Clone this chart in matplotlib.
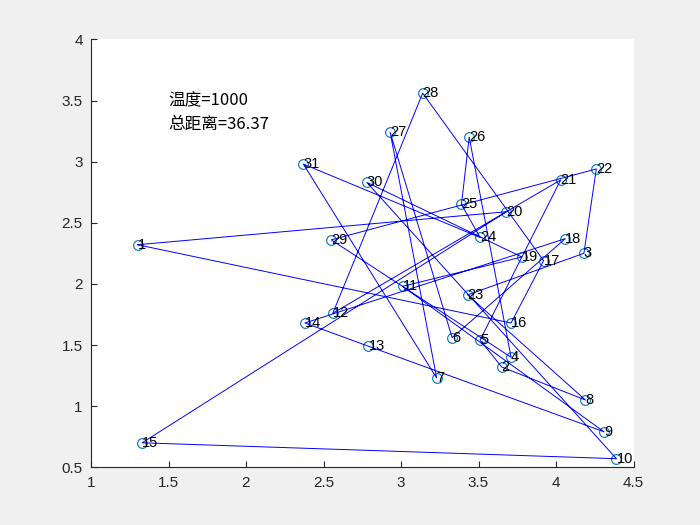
import numpy as np
import matplotlib
matplotlib.use("Agg")
import matplotlib.pyplot as plt

# city coordinates (city id = index + 1)
city_x = [1.30, 3.65, 4.18, 3.71, 3.51, 3.33, 3.23, 4.19, 4.31, 4.39,
          3.01, 2.56, 2.79, 2.38, 1.33, 3.71, 3.92, 4.06, 3.78, 3.68,
          4.03, 4.26, 3.43, 3.51, 3.39, 3.44, 2.93, 3.14, 2.55, 2.78, 2.37]
city_y = [2.32, 1.32, 2.25, 1.40, 1.54, 1.56, 1.23, 1.05, 0.79, 0.57,
          1.98, 1.76, 1.49, 1.68, 0.70, 1.68, 2.19, 2.37, 2.22, 2.59,
          2.85, 2.94, 1.91, 2.38, 2.65, 3.20, 3.24, 3.56, 2.36, 2.83, 2.98]

# visiting order of the route (closed tour)
route = [1, 20, 15, 10, 30, 19, 11, 9, 13, 14, 18, 6, 27, 7, 31, 24, 25, 26,
         4, 29, 22, 3, 23, 8, 2, 5, 21, 12, 28, 17, 16]

temperature = 1000
total_dist = 36.37

plt.rcParams["font.family"] = ["Noto Sans CJK SC", "DejaVu Sans"]

fig = plt.figure(figsize=(7, 5.25), dpi=100, facecolor="#f0f0f0")
ax = fig.add_axes([0.13, 0.11, 0.775, 0.815])

xs = np.array(city_x)
ys = np.array(city_y)
ax.plot(xs, ys, "o", mfc="none", mec=(0, 0.447, 0.741), ms=7, mew=0.8)

order = np.array(route + [route[0]]) - 1
ax.plot(xs[order], ys[order], "-", color="blue", lw=0.7)

for i in range(len(xs)):
    ax.text(xs[i], ys[i], str(i + 1), fontsize=10.5, ha="left", va="center",
            family="Liberation Sans")

ax.text(1.5, 3.5, f"温度={temperature}", fontsize=12, va="center")
ax.text(1.5, 3.3, f"总距离={total_dist}", fontsize=12, va="center")

ax.set_xlim(1, 4.5)
ax.set_ylim(0.5, 4)
ax.set_xticks(np.arange(1, 4.51, 0.5))
ax.set_yticks(np.arange(0.5, 4.01, 0.5))
ax.set_xticklabels(["1", "1.5", "2", "2.5", "3", "3.5", "4", "4.5"])
ax.set_yticklabels(["0.5", "1", "1.5", "2", "2.5", "3", "3.5", "4"])
for s in ["top", "right"]:
    ax.spines[s].set_visible(False)
for s in ["left", "bottom"]:
    ax.spines[s].set_color("#262626")
ax.tick_params(direction="in", length=4, colors="#262626", labelsize=11,
               labelcolor="#262626", pad=6)
for lab in ax.get_xticklabels() + ax.get_yticklabels():
    lab.set_family("Liberation Sans")

fig.savefig("out.png", dpi=100, facecolor=fig.get_facecolor())
